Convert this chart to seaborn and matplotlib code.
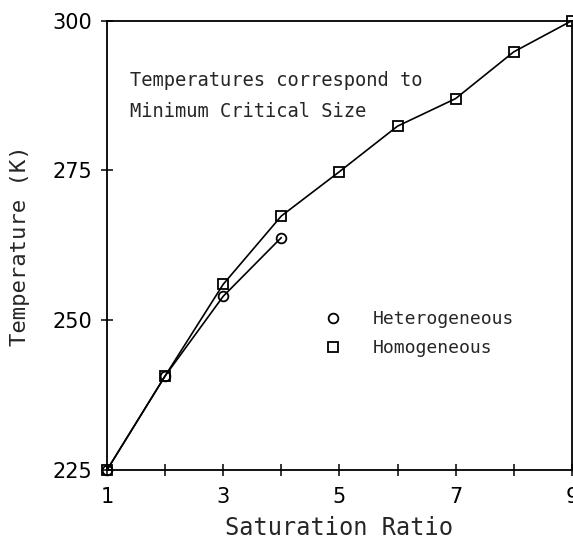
import matplotlib
matplotlib.use("Agg")
import matplotlib.pyplot as plt
from matplotlib.lines import Line2D
import seaborn as sns
import pandas as pd

# data
het_x = [1, 2, 3, 4]
het_y = [225.0, 240.7, 254.0, 263.8]
hom_x = [1, 2, 3, 4, 5, 6, 7, 8, 9]
hom_y = [225.0, 240.7, 256.0, 267.4, 274.8, 282.4, 287.0, 294.8, 300.0]
x_ticks = [1, 3, 5, 7, 9]
y_ticks = [225, 250, 275, 300]

sns.set_style("ticks")
plt.rcParams["font.family"] = ["DejaVu Sans"]

df = pd.concat([
    pd.DataFrame({"x": het_x, "y": het_y, "series": "Heterogeneous"}),
    pd.DataFrame({"x": hom_x, "y": hom_y, "series": "Homogeneous"}),
])

fig = plt.figure(figsize=(5.73, 5.42), dpi=100)
ax = fig.add_axes([0.1867, 0.1328, 0.8113, 0.829])

markers = {"Heterogeneous": "o", "Homogeneous": "s"}
for name, grp in df.groupby("series"):
    sns.lineplot(data=grp, x="x", y="y", ax=ax, color="black", linewidth=1.2,
                 marker=markers[name], markersize=7, markerfacecolor="none",
                 markeredgecolor="black", markeredgewidth=1.3, clip_on=False,
                 legend=False, sort=False)

ax.set_xlim(1, 9)
ax.set_ylim(225, 300)
ax.set_xticks(range(1, 10))
ax.set_xticklabels([str(v) if v in x_ticks else "" for v in range(1, 10)])
ax.set_yticks(y_ticks)
ax.set_yticklabels([str(v) for v in y_ticks])
ax.tick_params(direction="inout", length=9, width=1.1, labelsize=15,
               colors="black", pad=6)
ax.tick_params(axis="x", pad=8)
for s in ax.spines.values():
    s.set_visible(True)
    s.set_linewidth(1.3)
    s.set_color("black")

mono = "DejaVu Sans Mono"
ax.set_xlabel("Saturation Ratio", family=mono, fontsize=17, labelpad=6)
ax.set_ylabel("Temperature (K)", family=mono, fontsize=16, labelpad=16)

ax.text(0.049, 0.889, "Temperatures correspond to", transform=ax.transAxes,
        family=mono, fontsize=13.5, va="top", ha="left")
ax.text(0.049, 0.818, "Minimum Critical Size", transform=ax.transAxes,
        family=mono, fontsize=13.5, va="top", ha="left")

handles = [Line2D([], [], linestyle="none", marker="o", markersize=7,
                  markerfacecolor="none", markeredgecolor="black", markeredgewidth=1.3),
           Line2D([], [], linestyle="none", marker="s", markersize=7,
                  markerfacecolor="none", markeredgecolor="black", markeredgewidth=1.3)]
ax.legend(handles, ["Heterogeneous", "Homogeneous"], frameon=False,
          loc="upper left", bbox_to_anchor=(0.452, 0.372), prop={"family": mono, "size": 13},
          handlelength=1.0, handletextpad=1.7, labelspacing=0.6, borderaxespad=0)

fig.savefig("out.png", dpi=100, facecolor="white")
